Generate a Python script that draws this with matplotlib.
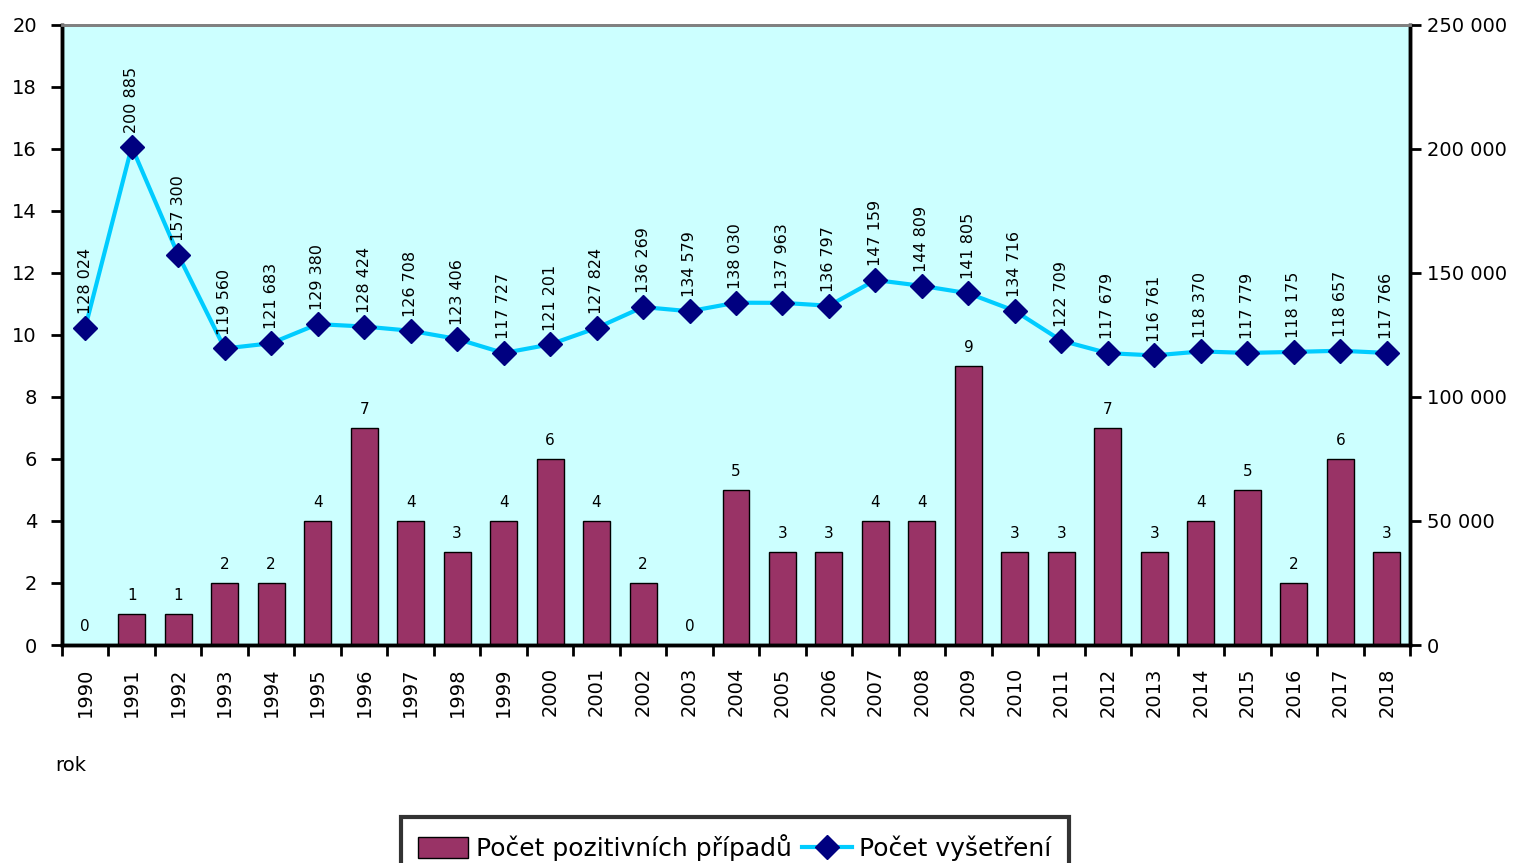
import matplotlib
matplotlib.use("Agg")
import matplotlib.pyplot as plt
from matplotlib.ticker import FuncFormatter, MultipleLocator, FixedLocator

# Data
years = list(range(1990, 2019))
positive = [0, 1, 1, 2, 2, 4, 7, 4, 3, 4, 6, 4, 2, 0, 5, 3, 3, 4, 4, 9,
            3, 3, 7, 3, 4, 5, 2, 6, 3]
exams = [128024, 200885, 157300, 119560, 121683, 129380, 128424, 126708,
         123406, 117727, 121201, 127824, 136269, 134579, 138030, 137963,
         136797, 147159, 144809, 141805, 134716, 122709, 117679, 116761,
         118370, 117779, 118175, 118657, 117766]

BG = "#CCFFFF"
BAR = "#993366"
LINE = "#00CCFF"
MARK = "#000080"


def spaced(v, pos=None):
    return f"{int(v):,}".replace(",", " ")


fig = plt.figure(figsize=(15.26, 8.63), dpi=100)
ax = fig.add_axes([62 / 1526, 1 - 645 / 863, 1348 / 1526, 620 / 863])
ax.set_facecolor(BG)

x = list(range(len(years)))
bars = ax.bar(x, positive, width=0.58, color=BAR, edgecolor="black",
              linewidth=1, zorder=2)
for xi, v in zip(x, positive):
    ax.annotate(str(v), (xi, v), xytext=(0, 8), textcoords="offset points",
                ha="center", va="bottom", fontsize=11, color="black")

ax.set_xlim(-0.5, len(years) - 0.5)
ax.set_ylim(0, 20)
ax.yaxis.set_major_locator(MultipleLocator(2))
ax.set_xticks(x)
ax.set_xticklabels([str(y) for y in years], rotation=90, fontsize=14)
ax.tick_params(axis="x", length=0, pad=16)
ax.xaxis.set_minor_locator(FixedLocator([i - 0.5 for i in range(len(years) + 1)]))
ax.tick_params(axis="x", which="minor", length=8, width=2, direction="out")
ax.tick_params(axis="y", length=8, width=2, direction="out", labelsize=14,
               pad=10)

ax2 = ax.twinx()
ax2.plot(x, exams, color=LINE, linewidth=3, marker="D", markersize=12,
         markerfacecolor=MARK, markeredgecolor=MARK, zorder=3)
for xi, v in zip(x, exams):
    ax2.annotate(spaced(v), (xi, v), xytext=(0, 10), textcoords="offset points",
                 ha="center", va="bottom", rotation=90, fontsize=11.5,
                 color="black")
ax2.set_ylim(0, 250000)
ax2.yaxis.set_major_locator(MultipleLocator(50000))
ax2.yaxis.set_major_formatter(FuncFormatter(spaced))
ax2.tick_params(axis="y", length=8, width=2, direction="out", labelsize=14,
                pad=4)

for a in (ax, ax2):
    a.spines["top"].set_color("#808080")
    a.spines["top"].set_linewidth(2)
    for side in ("left", "right", "bottom"):
        a.spines[side].set_linewidth(2.5)
        a.spines[side].set_color("black")

fig.text(55 / 1526, 1 - 765 / 863, "rok", fontsize=14, va="center")

handles = [bars, ax2.lines[0]]
labels = ["Počet pozitivních případů", "Počet vyšetření"]
leg = fig.legend(handles, labels, loc="upper center",
                 bbox_to_anchor=(735 / 1526, 1 - 817 / 863), ncol=2,
                 fontsize=18, frameon=True, fancybox=False,
                 handlelength=2.0, handleheight=0.9, handletextpad=0.3,
                 columnspacing=0.4, borderpad=0.7, borderaxespad=0)
leg.get_frame().set_edgecolor("black")
leg.get_frame().set_linewidth(3)

fig.savefig("out.png", dpi=100, facecolor="white")
